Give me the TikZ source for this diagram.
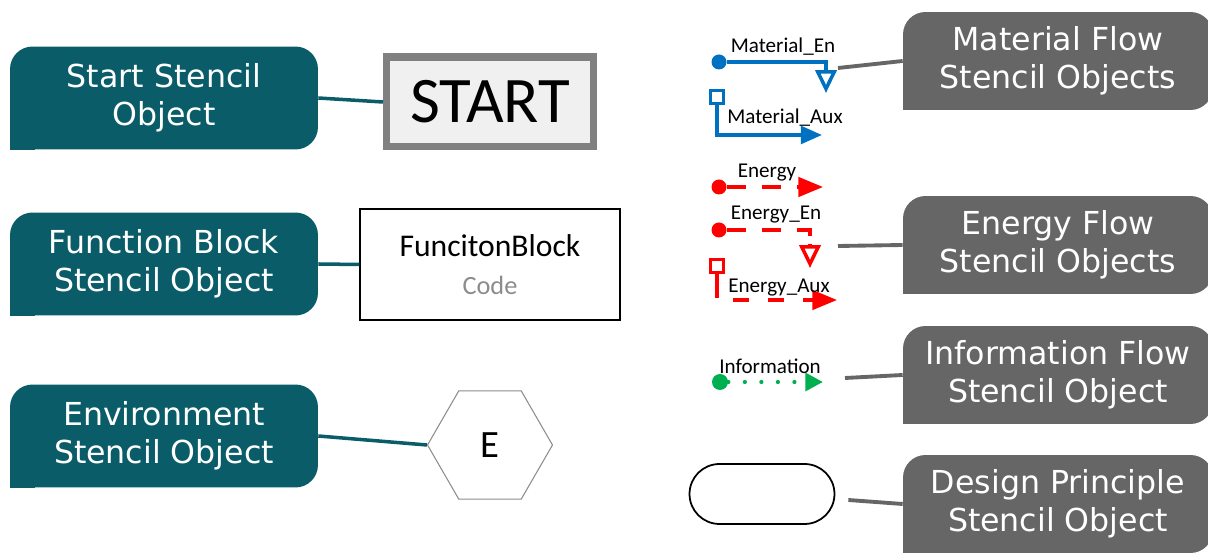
\documentclass[tikz,border=0pt]{standalone}
\usepackage{fontspec}
\setmainfont{Carlito}
\newfontfamily\notefont{DejaVu Sans}
\usepackage{tikz}
\usetikzlibrary{arrows.meta,shapes.geometric}

\definecolor{notetealc}{HTML}{0B5C69}
\definecolor{notegrayc}{HTML}{666666}
\definecolor{matblue}{HTML}{0070C0}
\definecolor{enred}{HTML}{FF0000}
\definecolor{infogreen}{HTML}{00B050}
\definecolor{codegray}{HTML}{8C8C8C}

\tikzset{
  note/.style={text=white, rounded corners=0.45cm, align=center, inner sep=0pt,
    font=\notefont\fontsize{18}{21.5}\selectfont},
  tealnote/.style={note, fill=notetealc, minimum width=6.16cm, minimum height=2.06cm},
  graynote/.style={note, fill=notegrayc, minimum width=6.2cm, minimum height=1.96cm},
  tealline/.style={draw=notetealc, line width=2pt},
  grayline/.style={draw=notegrayc, line width=2.2pt},
  flowlabel/.style={font=\fontsize{12}{14}\selectfont, inner sep=0pt},
  flowline/.style={line width=2pt},
  dotend/.style={circle, inner sep=0pt, minimum size=0.3cm},
  boxend/.style={rectangle, draw, fill=white, line width=1.6pt, inner sep=0pt, minimum size=0.26cm},
}
% sharp lower left corner of a note
\newcommand{\notecorner}[2]{\fill[#2] (#1.south west) rectangle ++(0.5cm,0.5cm);}

\begin{document}
\begin{tikzpicture}[x=0.02cm, y=-0.02cm]
	\useasboundingbox (0,0) rectangle (1208,553);

	% left column
	\node[tealnote] (startnote) at (164,98) {Start Stencil\\Object};
	\node[tealnote] (fbnote) at (164,264) {Function Block\\Stencil Object};
	\node[tealnote] (envnote) at (164,436) {Environment\\Stencil Object};
	\notecorner{startnote}{notetealc}
	\notecorner{fbnote}{notetealc}
	\notecorner{envnote}{notetealc}

	\node[draw=gray, line width=4pt, fill=black!6, minimum width=4.14cm, minimum height=1.8cm,
		font=\fontsize{37}{40}\selectfont] (startbox) at (490,102) {START};
	\node[draw=black, line width=0.8pt, minimum width=5.2cm, minimum height=2.22cm, align=center,
		font=\fontsize{18}{22}\selectfont] (fbbox) at (490,264.5)
		{FuncitonBlock\\{\fontsize{15}{18}\selectfont\color{codegray}Code}};
	\node[regular polygon, regular polygon sides=6, draw=black!45, line width=0.6pt, inner sep=0pt,
		minimum size=2.5cm, font=\fontsize{22}{24}\selectfont] (envhex) at (490,445) {E};

	\draw[tealline] (startnote.east) -- (startbox.west);
	\draw[tealline] (fbnote.east) -- (fbbox.west);
	\draw[tealline] (envnote.east) -- (envhex.west);

	% right column
	\node[graynote] (matnote) at (1058,61) {Material Flow\\Stencil Objects};
	\node[graynote] (ennote) at (1058,245) {Energy Flow\\Stencil Objects};
	\node[graynote] (infonote) at (1058,375) {Information Flow\\Stencil Object};
	\node[graynote] (dpnote) at (1058,504) {Design Principle\\Stencil Object};
	\notecorner{matnote}{notegrayc}
	\notecorner{ennote}{notegrayc}
	\notecorner{infonote}{notegrayc}
	\notecorner{dpnote}{notegrayc}

	% material flow
	\node[dotend, fill=matblue] (maten) at (719,62) {};
	\draw[flowline, matblue, -{Triangle[open, length=13pt, width=12pt]}]
		(maten.east) -- (826,62) -- (826,93);
	\node[flowlabel] at (783,47) {Material\_En};
	\node[boxend, draw=matblue] (mataux) at (717,97) {};
	\draw[flowline, matblue, -{Triangle[length=12pt, width=10pt]}]
		(mataux.south) -- (717,135) -- (822,135);
	\node[flowlabel] at (785,118) {Material\_Aux};

	% energy flow
	\node[dotend, fill=enred] (en) at (719,187) {};
	\draw[flowline, enred, dash pattern=on 11pt off 9pt, -{Triangle[length=14pt, width=11pt]}]
		(en.east) -- (823,187);
	\node[flowlabel] at (767,173) {Energy};
	\node[dotend, fill=enred] (enen) at (719,230) {};
	\draw[flowline, enred, dash pattern=on 11pt off 9pt] (enen.east) -- (810,230) -- (810,246);
	\draw[flowline, enred, -{Triangle[open, length=13pt, width=12pt]}] (810,244) -- (810,268);
	\node[flowlabel] at (776,215) {Energy\_En};
	\node[boxend, draw=enred] (enaux) at (717,266) {};
	\draw[flowline, enred] (enaux.south) -- (717,298);
	\draw[flowline, enred, dash pattern=on 9pt off 11pt, -{Triangle[length=14pt, width=11pt]}]
		(733,300) -- (837,300);
	\node[flowlabel] at (779,288) {Energy\_Aux};

	% information flow
	\node[dotend, fill=infogreen, minimum size=0.32cm] (info) at (720,382) {};
	\draw[infogreen, line width=2.4pt, line cap=round, dash pattern=on 0pt off 9.4pt,
		-{Triangle[length=10pt, width=10pt]}] (info.east) -- (823,382);
	\node[flowlabel] at (770,366) {Information};

	% design principle
	\node[draw=black, line width=1pt, rounded corners=0.6cm, minimum width=2.9cm,
		minimum height=1.2cm] (dpbox) at (762,494) {};

	\coordinate (matend) at (838,68);
	\coordinate (enend) at (838,246);
	\coordinate (infoend) at (845,378);
	\draw[grayline] (matend) -- (matnote.west);
	\draw[grayline] (enend) -- (ennote.west);
	\draw[grayline] (infoend) -- (infonote.west);
	\draw[grayline] (dpbox.east) ++(13,6) -- (dpnote.west);
\end{tikzpicture}
\end{document}
